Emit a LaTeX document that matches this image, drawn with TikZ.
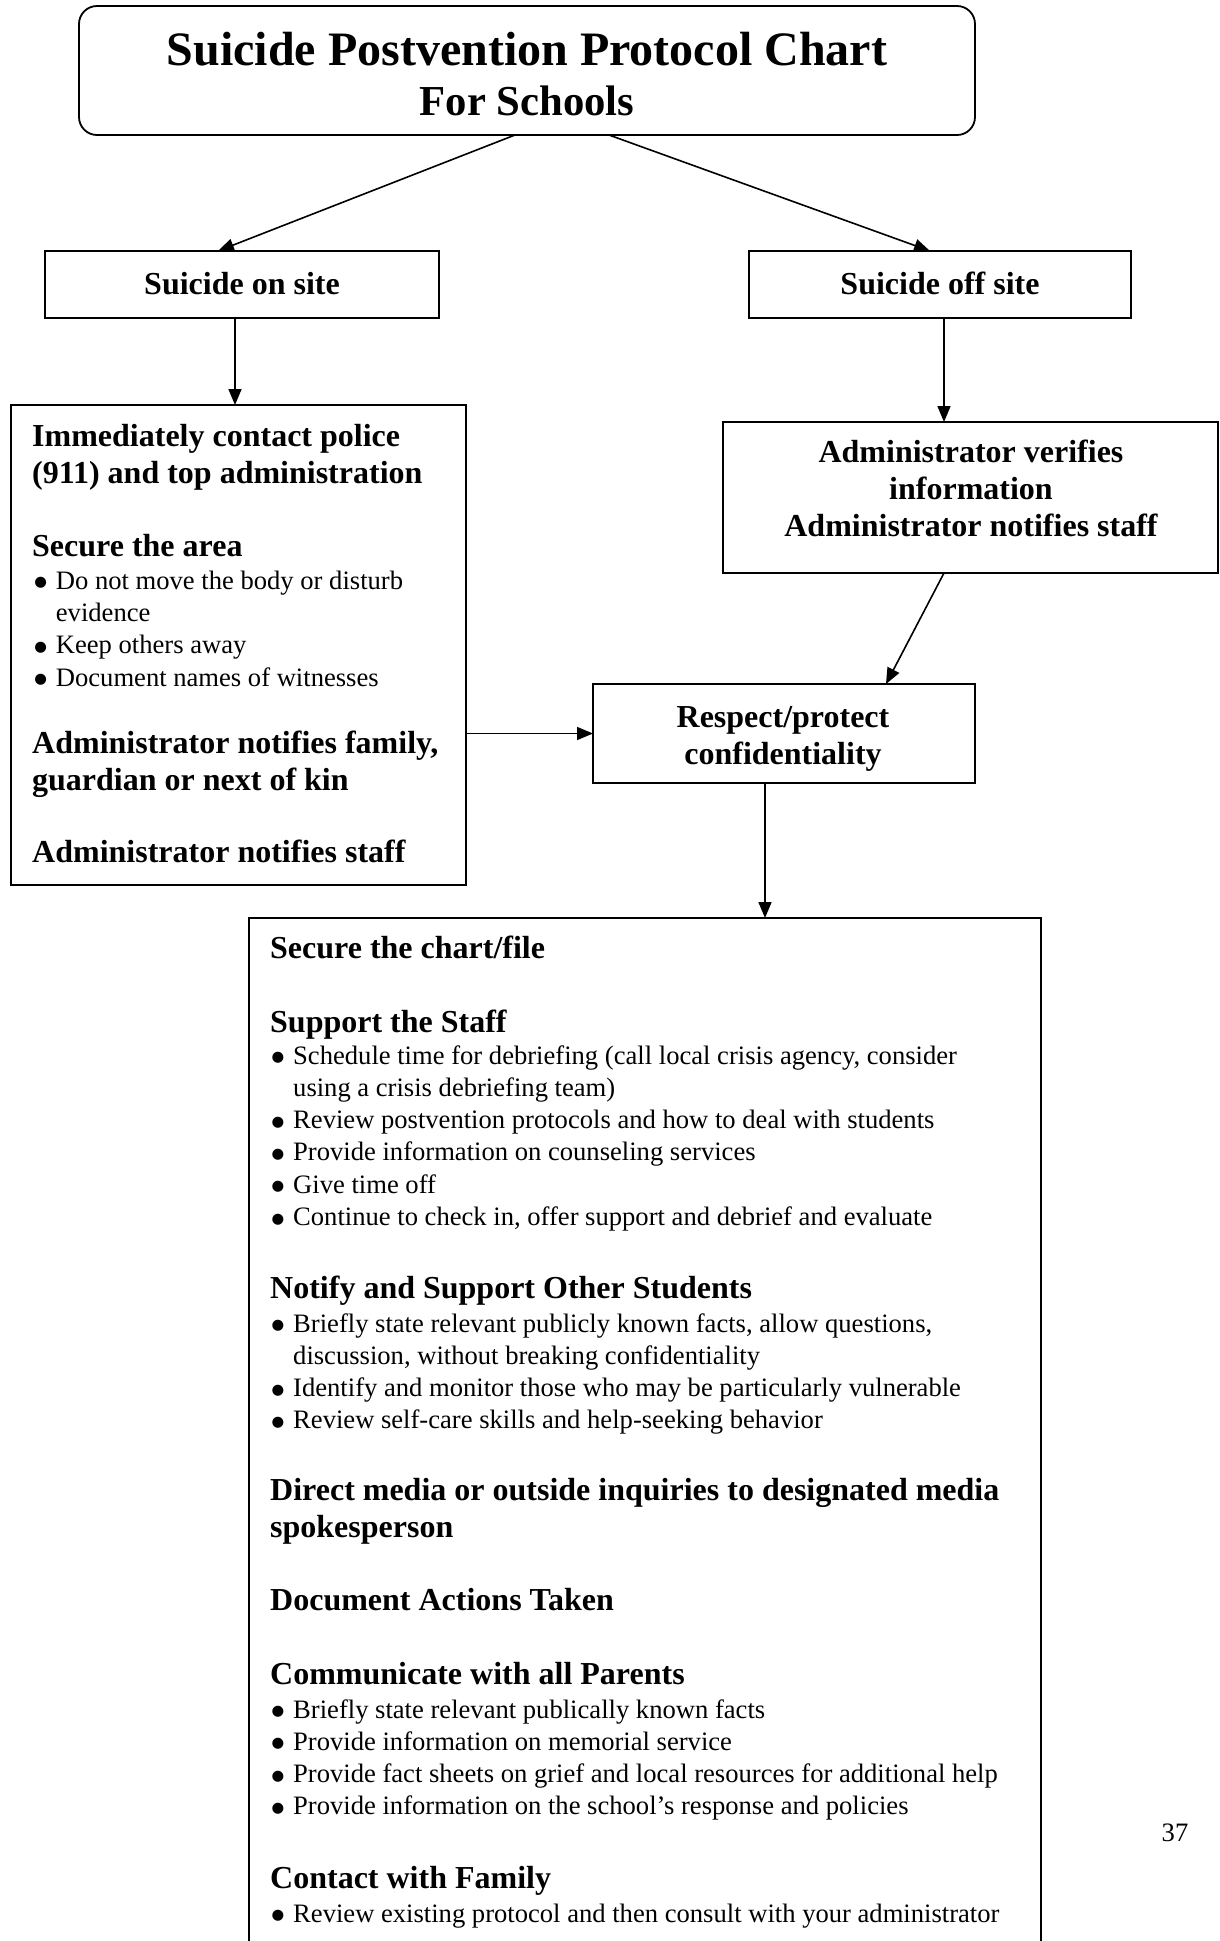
\documentclass[tikz,border=0pt]{standalone}
\usepackage{fontspec}
\usepackage{graphicx}
\setmainfont{Liberation Serif}
\newfontfamily\symf{DejaVu Sans}
\usetikzlibrary{arrows.meta}
\newlength\bulw \setlength\bulw{21.5pt}
\newcommand\bigbul{\raisebox{2.5pt}{\fontsize{14.5}{14.5}\selectfont\symf ●}}
\newcommand\bitem[1]{\hbox{\makebox[\bulw][l]{\hspace{0pt}\bigbul}#1}}
\newcommand\bcont[1]{\hbox{\hspace*{\bulw}#1}}
\newcommand\clines[1]{\vtop{\halign{\hfil##\hfil\cr#1\crcr}}}
\begin{document}
\begin{tikzpicture}[x=1pt,y=-1pt,
 boxs/.style={draw, line width=1.8pt, inner sep=0pt, outer sep=0pt, anchor=north west},
 arr/.style={line width=1.6pt, -{Triangle[length=16pt,width=13pt]}},
 hd/.style={anchor=base west, inner sep=0pt, font=\fontsize{32}{37}\selectfont\bfseries},
 hdc/.style={anchor=base, inner sep=0pt, font=\fontsize{32}{37}\selectfont\bfseries},
 body/.style={anchor=base west, inner sep=0pt, font=\fontsize{26.6}{32.3}\selectfont},
]
\useasboundingbox[fill=white] (0,0) rectangle (1220,1941);

% boxes
\node[boxs, rounded corners=18pt, minimum width=896pt, minimum height=129pt] (title) at (79,6) {};
\node[boxs, minimum width=394pt, minimum height=67pt] (onsite) at (45,251) {};
\node[boxs, minimum width=382pt, minimum height=67pt] (offsite) at (749,251) {};
\node[boxs, minimum width=455pt, minimum height=480pt] (leftbox) at (11,405) {};
\node[boxs, minimum width=495pt, minimum height=151pt] (verify) at (723,422) {};
\node[boxs, minimum width=382pt, minimum height=99pt] (respect) at (593,684) {};
\node[boxs, draw=none, minimum width=792pt, minimum height=1060pt] (bottom) at (249,918) {};
\draw[line width=1.8pt] (bottom.south west) -- (bottom.north west) -- (bottom.north east) -- (bottom.south east);

% title
\node[anchor=base, inner sep=0pt, font=\fontsize{48}{52}\selectfont\bfseries] (t1) at (527,65) {Suicide Postvention Protocol Chart};
\node[anchor=base, inner sep=0pt, font=\fontsize{42.7}{52}\selectfont\bfseries] (t2) at (527,115) {For Schools};

\node[hdc] (onsitet) at (242,294) {Suicide on site};
\node[hdc] (offsitet) at (940,294) {Suicide off site};

% left box
\node[hd] (l1) at (32,446) {\vtop{\hbox{Immediately contact police}\hbox{(911) and top administration}}};
\node[hd] (l2) at (32,556) {Secure the area};
\node[body] (l3) at (34.2,589.3) {\vtop{\bitem{Do not move the body or disturb}\bcont{evidence}\bitem{Keep others away}\bitem{Document names of witnesses}}};
\node[hd] (l4) at (32,753) {\vtop{\hbox{Administrator notifies family,}\hbox{guardian or next of kin}}};
\node[hd] (l5) at (32,862) {Administrator notifies staff};

% right boxes
\node[hdc] (vt) at (971,462) {\clines{Administrator verifies\cr information\cr Administrator notifies staff}};
\node[hdc] (rt) at (783,727) {\clines{Respect/protect\cr confidentiality}};

% bottom box
\node[hd] (b1) at (270,958.5) {Secure the chart/file};
\node[hd] (b2) at (270,1032.5) {Support the Staff};
\node[body] (b3) at (271.5,1064) {\vtop{\bitem{Schedule time for debriefing (call local crisis agency, consider}\bcont{using a crisis debriefing team)}\bitem{Review postvention protocols and how to deal with students}\bitem{Provide information on counseling services}\bitem{Give time off}\bitem{Continue to check in, offer support and debrief and evaluate}}};
\node[hd] (b4) at (270,1298.5) {Notify and Support Other Students};
\node[body] (b5) at (271.5,1332) {\vtop{\bitem{Briefly state relevant publicly known facts, allow questions,}\bcont{discussion, without breaking confidentiality}\bitem{Identify and monitor those who may be particularly vulnerable}\bitem{Review self-care skills and help-seeking behavior}}};
\node[hd] (b6) at (270,1500.5) {\vtop{\hbox{Direct media or outside inquiries to designated media}\hbox{spokesperson}}};
\node[hd] (b7) at (270,1610.5) {Document Actions Taken};
\node[hd] (b8) at (270,1684.5) {Communicate with all Parents};
\node[body] (b9) at (271.5,1718) {\vtop{\bitem{Briefly state relevant publically known facts}\bitem{Provide information on memorial service}\bitem{Provide fact sheets on grief and local resources for additional help}\bitem{Provide information on the school’s response and policies}}};
\node[hd] (b10) at (270,1888.5) {Contact with Family};
\node[body] (b11) at (271.5,1922) {\vtop{\bitem{Review existing protocol and then consult with your administrator}}};
\node[body, anchor=base] (pg) at (1175,1841) {37};

% connectors
\draw[arr] ([xshift=-12pt]title.south) -- ([xshift=-24pt]onsite.north);
\draw[arr] ([xshift=82pt]title.south) -- ([xshift=-10pt]offsite.north);
\draw[arr] ([xshift=-7pt]onsite.south) -- ([xshift=-7pt]onsite.south |- leftbox.north);
\draw[arr] ([xshift=4pt]offsite.south) -- ([xshift=4pt]offsite.south |- verify.north);
\draw[arr] ([xshift=-26.5pt]verify.south) -- ([xshift=102pt]respect.north);
\draw[arr] (respect.west -| leftbox.east) -- (respect.west);
\draw[arr] ([xshift=-19pt]respect.south) -- ([xshift=-19pt]respect.south |- bottom.north);
\end{tikzpicture}
\end{document}
